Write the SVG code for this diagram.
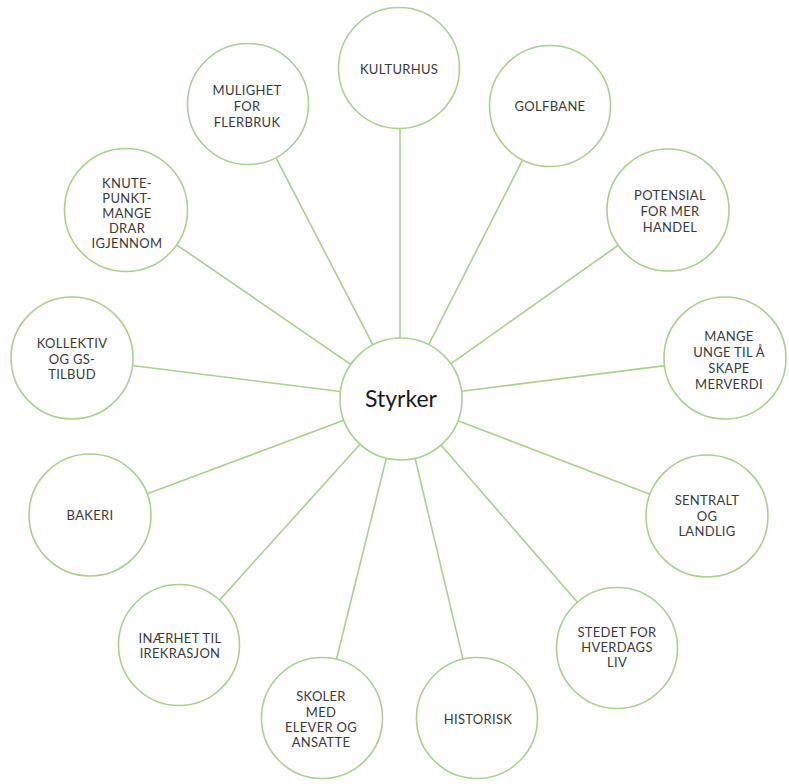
<svg xmlns="http://www.w3.org/2000/svg" width="789" height="784" viewBox="0 0 789 784">
<style>
.c{fill:#ffffff;stroke:#a9d18e;stroke-width:1.6}
.l{stroke:#a9d18e;stroke-width:1.6;fill:none}
.t{font-family:Lato,"Liberation Sans",sans-serif;font-size:13px;letter-spacing:0.3px;fill:#3a3a3a;text-anchor:middle}
.m{font-family:Lato,"Liberation Sans",sans-serif;font-size:23px;fill:#1a1a1a;text-anchor:middle}
</style>
<rect width="789" height="784" fill="#ffffff"/>
<g id="connectors">
<line class="l" x1="400" y1="338" x2="400" y2="129"/>
<line class="l" x1="428.7" y1="344.6" x2="522.6" y2="159.9"/>
<line class="l" x1="450.8" y1="363.8" x2="618.6" y2="245"/>
<line class="l" x1="461.5" y1="391.3" x2="665" y2="365.6"/>
<line class="l" x1="458" y1="420.8" x2="650.5" y2="494.4"/>
<line class="l" x1="441" y1="445.1" x2="577.4" y2="602.3"/>
<line class="l" x1="415.1" y1="458.3" x2="463" y2="659.1"/>
<line class="l" x1="386.3" y1="458.2" x2="336.5" y2="659.3"/>
<line class="l" x1="360.1" y1="444.3" x2="219.5" y2="600.1"/>
<line class="l" x1="343.8" y1="420.3" x2="146.7" y2="493.9"/>
<line class="l" x1="340.5" y1="391.5" x2="132" y2="365.5"/>
<line class="l" x1="350.7" y1="364.4" x2="175.9" y2="244.3"/>
<line class="l" x1="372.9" y1="344.8" x2="275.9" y2="157.7"/>
</g>
<g id="styrker"><circle class="c" cx="401" cy="399" r="61"/><text class="m" x="401" y="407">Styrker</text></g>
<g id="kulturhus"><circle class="c" cx="399" cy="68" r="60.5"/><text class="t" x="399" y="73.5">KULTURHUS</text></g>
<g id="golfbane"><circle class="c" cx="550" cy="106" r="60.5"/><text class="t" x="550" y="110.5">GOLFBANE</text></g>
<g id="potensial"><circle class="c" cx="668" cy="210" r="61"/><text class="t" x="670" y="199.5">POTENSIAL</text><text class="t" x="670" y="215.5">FOR MER</text><text class="t" x="670" y="231.5">HANDEL</text></g>
<g id="mange"><circle class="c" cx="725" cy="358" r="61"/><text class="t" x="729" y="340.5">MANGE</text><text class="t" x="729" y="356.5">UNGE TIL Å</text><text class="t" x="729" y="372.5">SKAPE</text><text class="t" x="729" y="388.5">MERVERDI</text></g>
<g id="sentralt"><circle class="c" cx="707" cy="516" r="61"/><text class="t" x="707" y="504.5">SENTRALT</text><text class="t" x="707" y="520.5">OG</text><text class="t" x="707" y="535.5">LANDLIG</text></g>
<g id="stedet"><circle class="c" cx="617" cy="648" r="60.5"/><text class="t" x="617" y="636.5">STEDET FOR</text><text class="t" x="617" y="651.5">HVERDAGS</text><text class="t" x="617" y="666.5">LIV</text></g>
<g id="historisk"><circle class="c" cx="477" cy="718" r="60.5"/><text class="t" x="478" y="723.5">HISTORISK</text></g>
<g id="skoler"><circle class="c" cx="322" cy="718" r="60.5"/><text class="t" x="321" y="700.5">SKOLER</text><text class="t" x="321" y="716.5">MED</text><text class="t" x="321" y="731.5">ELEVER OG</text><text class="t" x="321" y="746.5">ANSATTE</text></g>
<g id="naerhet"><circle class="c" cx="179" cy="645" r="60.5"/><text class="t" x="180" y="642.5">INÆRHET TIL</text><text class="t" x="180" y="657.5">IREKRASJON</text></g>
<g id="bakeri"><circle class="c" cx="90" cy="515" r="61"/><text class="t" x="90" y="519.5">BAKERI</text></g>
<g id="kollektiv"><circle class="c" cx="72" cy="358" r="61"/><text class="t" x="72" y="347.5">KOLLEKTIV</text><text class="t" x="72" y="363.5">OG GS-</text><text class="t" x="72" y="378.5">TILBUD</text></g>
<g id="knutepunkt"><circle class="c" cx="126" cy="210" r="61.5"/><text class="t" x="127" y="187.5">KNUTE-</text><text class="t" x="127" y="202.5">PUNKT-</text><text class="t" x="127" y="217.5">MANGE</text><text class="t" x="127" y="232.5">DRAR</text><text class="t" x="127" y="247.5">IGJENNOM</text></g>
<g id="mulighet"><circle class="c" cx="248" cy="104" r="60.5"/><text class="t" x="247" y="94.5">MULIGHET</text><text class="t" x="247" y="110.5">FOR</text><text class="t" x="247" y="126.5">FLERBRUK</text></g>
</svg>
